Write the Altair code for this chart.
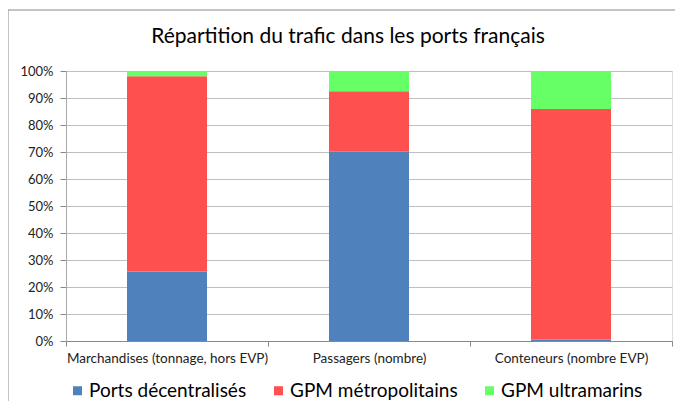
import altair as alt
import pandas as pd

categories = ["Marchandises (tonnage, hors EVP)", "Passagers (nombre)", "Conteneurs (nombre EVP)"]
series = ["Ports décentralisés", "GPM métropolitains", "GPM ultramarins"]
ports_decentralises = [25.7, 70.1, 0.6]
gpm_metropolitains = [72.4, 22.4, 85.3]
gpm_ultramarins = [1.9, 7.5, 14.1]
colors = ["#4F81BD", "#FF5050", "#66FF66"]
y_ticks = [i / 10 for i in range(11)]

rows = []
for i, c in enumerate(categories):
    for j, (s, vals) in enumerate(zip(series, [ports_decentralises, gpm_metropolitains, gpm_ultramarins])):
        rows.append({"cat": c, "series": s, "value": vals[i] / 100, "order": j})
df = pd.DataFrame(rows)

FONT = "Lato"

bars = alt.Chart(df).mark_bar(size=80).encode(
    x=alt.X("cat:N", sort=categories,
            scale=alt.Scale(paddingInner=0, paddingOuter=0),
            axis=alt.Axis(title=None, labelAngle=0, tickBand="extent", tickSize=5,
                          tickColor="#888888", domainColor="#888888",
                          labelFont=FONT, labelFontSize=13.5, labelColor="#222222",
                          labelPadding=5, labelLimit=300)),
    y=alt.Y("value:Q", stack="zero", scale=alt.Scale(domain=[0, 1], nice=False),
            axis=alt.Axis(title=None, format="%", values=y_ticks, tickSize=6,
                          tickColor="#888888", domainColor="#aaaaaa",
                          gridColor="#bfbfbf", labelFont=FONT, labelFontSize=13,
                          labelColor="#222222", labelPadding=7)),
    color=alt.Color("series:N", scale=alt.Scale(domain=series, range=colors),
                    legend=alt.Legend(orient="none", legendX=2, legendY=310,
                                      direction="horizontal", title=None,
                                      symbolType="square", symbolSize=81,
                                      symbolStrokeWidth=0, labelFont=FONT,
                                      labelFontSize=19, labelColor="#000000",
                                      columnPadding=22, labelOffset=2, padding=0,
                                      labelLimit=300)),
    order=alt.Order("order:Q"),
)

one = pd.DataFrame({"a": [0]})
border_left = alt.Chart(one).mark_rule(color="#888888", strokeWidth=1).encode(
    x=alt.value(-58), y=alt.value(-61), y2=alt.value(400))
border_top = alt.Chart(one).mark_rule(color="#888888", strokeWidth=1).encode(
    x=alt.value(-58), x2=alt.value(700), y=alt.value(-61))

chart = alt.layer(border_left, border_top, bars).properties(
    width=606, height=270,
    autosize=alt.AutoSizeParams(type="none"),
    padding={"left": 58, "top": 63, "right": 3, "bottom": 60},
    title=alt.TitleParams("Répartition du trafic dans les ports français",
                          font=FONT, fontSize=21, fontWeight="normal", color="#000000",
                          anchor="middle", frame="group", dx=-21, offset=-37),
).configure_view(stroke=None).configure(background="white")

chart.save("out.html", embed_options={"renderer": "svg", "actions": False})
